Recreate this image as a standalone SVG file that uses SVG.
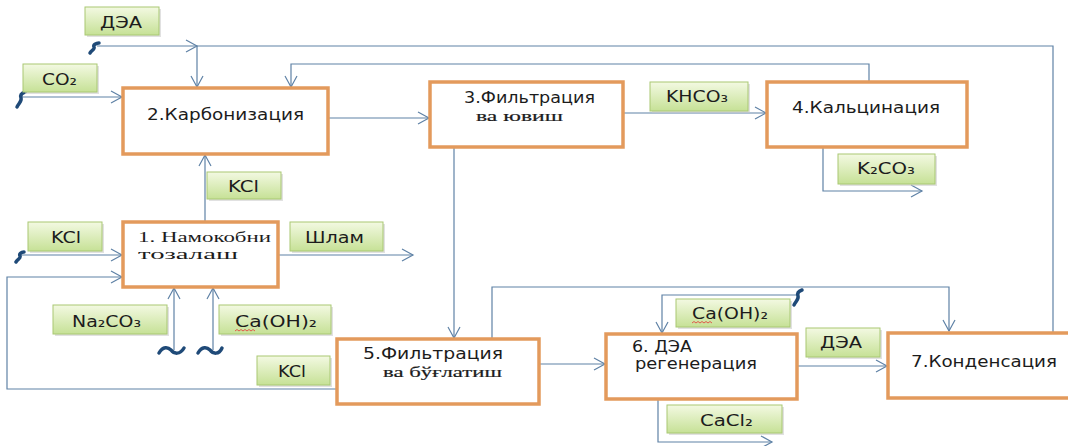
<svg xmlns="http://www.w3.org/2000/svg" width="1068" height="446" viewBox="0 0 1068 446">
<defs>
<linearGradient id="lg" x1="0" y1="0" x2="0" y2="1">
<stop offset="0" stop-color="#f3f9e2"/>
<stop offset="1" stop-color="#c6e196"/>
</linearGradient>
<marker id="ar" markerUnits="userSpaceOnUse" markerWidth="14" markerHeight="14" refX="12" refY="7" orient="auto">
<path d="M1,1 L12,7 L1,13" fill="none" stroke="#5f82a6" stroke-width="1.2"/>
</marker>
<style>
.box{fill:#ffffff;stroke:#e39a5c;stroke-width:3.5}
.lbl{fill:url(#lg);stroke:#a9c873;stroke-width:1}
.sh{fill:#c8c8c8;opacity:0.55}
.t{font-family:"DejaVu Sans","Noto Sans",sans-serif;font-size:15px;fill:#1c1c1c}
.s{font-family:"Liberation Serif","DejaVu Serif",serif;font-size:15px;fill:#1c1c1c}
.sb{stroke:#1c1c1c;stroke-width:0.2}
.c{fill:none;stroke:#5f82a6;stroke-width:1.2}
.sq{fill:none;stroke:#1f4a78;stroke-width:3.5;stroke-linecap:round}
.sp{fill:none;stroke:#e05a4a;stroke-width:1}
</style>
</defs>
<rect width="1068" height="446" fill="#ffffff"/>

<g id="connectors">
<path class="c" d="M97,46 H197" marker-end="url(#ar)"/>
<path class="c" d="M1053,332 V46 H197 V87" marker-end="url(#ar)"/>
<path class="c" d="M20,97 H122" marker-end="url(#ar)"/>
<path class="c" d="M869,82 V64 H291 V87" marker-end="url(#ar)"/>
<path class="c" d="M328,118 H429" marker-end="url(#ar)"/>
<path class="c" d="M623,113 H766" marker-end="url(#ar)"/>
<path class="c" d="M823,147 V191 H922" marker-end="url(#ar)"/>
<path class="c" d="M454,147 V338" marker-end="url(#ar)"/>
<path class="c" d="M205,222 V155" marker-end="url(#ar)"/>
<path class="c" d="M20,255 H122" marker-end="url(#ar)"/>
<path class="c" d="M278,255 H413" marker-end="url(#ar)"/>
<path class="c" d="M337,389 H7 V277 H122" marker-end="url(#ar)"/>
<path class="c" d="M174,350 V288" marker-end="url(#ar)"/>
<path class="c" d="M213,350 V288" marker-end="url(#ar)"/>
<path class="c" d="M539,364 H605" marker-end="url(#ar)"/>
<path class="c" d="M492,339 V287 H949 V331" marker-end="url(#ar)"/>
<path class="c" d="M797,295 H662 V333" marker-end="url(#ar)"/>
<path class="c" d="M658,399 V442 H772" marker-end="url(#ar)"/>
<path class="c" d="M797,366 H887" marker-end="url(#ar)"/>
</g>

<g id="breaks">
<path class="sq" d="M90,53 C92,50 95,49 94,47 C93,45 96,43 99,43"/>
<path class="sq" d="M17,107 C19,103 22,101 21,98 C20,95 22,93 25,92"/>
<path class="sq" d="M16,262 C18,259 21,258 20,256 C19,254 21,252 24,252"/>
<path class="sq" d="M794,305 C796,301 799,299 798,296 C797,293 799,291 802,290"/>
<path class="sq" d="M159,353 C163,346 168,347 171,350 C174,354 180,355 184,348"/>
<path class="sq" d="M198,353 C202,346 207,347 210,350 C213,354 219,355 222,348"/>
</g>

<g id="n2">
<rect class="box" x="123" y="88" width="205" height="66"/>
<text class="t" x="147" y="120" textLength="157" lengthAdjust="spacingAndGlyphs">2.Карбонизация</text>
</g>
<g id="n3">
<rect class="box" x="430" y="82" width="193" height="65"/>
<text class="t" x="464" y="103" textLength="131" lengthAdjust="spacingAndGlyphs">3.Фильтрация</text>
<text class="s sb" x="476" y="121" textLength="87" lengthAdjust="spacingAndGlyphs">ва ювиш</text>
</g>
<g id="n4">
<rect class="box" x="767" y="82" width="200" height="65"/>
<text class="t" x="792" y="113" textLength="148" lengthAdjust="spacingAndGlyphs">4.Кальцинация</text>
</g>
<g id="n1">
<rect class="box" x="123" y="222" width="155" height="65"/>
<text class="s" x="138" y="242" font-size="14" textLength="133" lengthAdjust="spacingAndGlyphs">1. Намокобни</text>
<text class="s" x="138" y="259" font-size="14" textLength="100" lengthAdjust="spacingAndGlyphs">тозалаш</text>
</g>
<g id="n5">
<rect class="box" x="337" y="339" width="202" height="65"/>
<text class="t" x="363" y="359" textLength="140" lengthAdjust="spacingAndGlyphs">5.Фильтрация</text>
<text class="s sb" x="383" y="377" textLength="119" lengthAdjust="spacingAndGlyphs">ва бўғлатиш</text>
</g>
<g id="n6">
<rect class="box" x="606" y="334" width="191" height="65"/>
<text class="t" x="632" y="352" textLength="60" lengthAdjust="spacingAndGlyphs">6. ДЭА</text>
<text class="t" x="635" y="369" textLength="122" lengthAdjust="spacingAndGlyphs">регенерация</text>
</g>
<g id="n7">
<rect class="box" x="888" y="333" width="190" height="65"/>
<text class="t" x="911" y="367" textLength="146" lengthAdjust="spacingAndGlyphs">7.Конденсация</text>
</g>

<g id="l_dea_top">
<rect class="sh" x="87" y="9" width="74" height="28"/>
<rect class="lbl" x="85" y="7" width="74" height="28"/>
<text class="t" x="100" y="28" textLength="42" lengthAdjust="spacingAndGlyphs">ДЭА</text>
</g>
<g id="l_co2">
<rect class="sh" x="25" y="66" width="74" height="28"/>
<rect class="lbl" x="23" y="64" width="74" height="28"/>
<text class="t" x="42" y="85" textLength="35" lengthAdjust="spacingAndGlyphs">CO₂</text>
</g>
<g id="l_kcl_top">
<rect class="sh" x="209" y="174" width="74" height="27"/>
<rect class="lbl" x="207" y="172" width="74" height="27"/>
<text class="t" x="228" y="192" textLength="31" lengthAdjust="spacingAndGlyphs">KCl</text>
</g>
<g id="l_kcl_left">
<rect class="sh" x="30" y="224" width="74" height="29"/>
<rect class="lbl" x="28" y="222" width="74" height="29"/>
<text class="t" x="51" y="243" textLength="30" lengthAdjust="spacingAndGlyphs">KCl</text>
</g>
<g id="l_shlam">
<rect class="sh" x="292" y="224" width="93" height="29"/>
<rect class="lbl" x="290" y="222" width="93" height="29"/>
<text class="t" x="305" y="243" textLength="59" lengthAdjust="spacingAndGlyphs">Шлам</text>
</g>
<g id="l_na2co3">
<rect class="sh" x="55" y="307" width="114" height="29"/>
<rect class="lbl" x="53" y="305" width="114" height="29"/>
<text class="t" x="72" y="327" textLength="69" lengthAdjust="spacingAndGlyphs">Na₂CO₃</text>
</g>
<g id="l_caoh2_left">
<rect class="sh" x="221" y="307" width="112" height="29"/>
<rect class="lbl" x="219" y="305" width="112" height="29"/>
<text class="t" x="235" y="327" textLength="82" lengthAdjust="spacingAndGlyphs">Ca(OH)₂</text>
<path class="sp" d="M235,331 l2,-1.5 l2,1.5 l2,-1.5 l2,1.5 l2,-1.5 l2,1.5 l2,-1.5 l2,1.5 l2,-1.5 l2,1.5"/>
</g>
<g id="l_kcl_bottom">
<rect class="sh" x="259" y="358" width="73" height="29"/>
<rect class="lbl" x="257" y="356" width="73" height="29"/>
<text class="t" x="278" y="377" textLength="28" lengthAdjust="spacingAndGlyphs">KCl</text>
</g>
<g id="l_khco3">
<rect class="sh" x="652" y="84" width="98" height="29"/>
<rect class="lbl" x="650" y="82" width="98" height="29"/>
<text class="t" x="666" y="102" textLength="62" lengthAdjust="spacingAndGlyphs">KHCO₃</text>
</g>
<g id="l_k2co3">
<rect class="sh" x="840" y="156" width="97" height="30"/>
<rect class="lbl" x="838" y="154" width="97" height="30"/>
<text class="t" x="857" y="174" textLength="58" lengthAdjust="spacingAndGlyphs">K₂CO₃</text>
</g>
<g id="l_caoh2_right">
<rect class="sh" x="678" y="301" width="114" height="28"/>
<rect class="lbl" x="676" y="299" width="114" height="28"/>
<text class="t" x="692" y="319" textLength="76" lengthAdjust="spacingAndGlyphs">Ca(OH)₂</text>
<path class="sp" d="M692,323 l2,-1.5 l2,1.5 l2,-1.5 l2,1.5 l2,-1.5 l2,1.5 l2,-1.5 l2,1.5 l2,-1.5 l2,1.5"/>
</g>
<g id="l_cacl2">
<rect class="sh" x="669" y="407" width="115" height="28"/>
<rect class="lbl" x="667" y="405" width="115" height="28"/>
<text class="t" x="700" y="426" textLength="53" lengthAdjust="spacingAndGlyphs">CaCl₂</text>
</g>
<g id="l_dea_right">
<rect class="sh" x="808" y="330" width="74" height="29"/>
<rect class="lbl" x="806" y="328" width="74" height="29"/>
<text class="t" x="820" y="348" textLength="42" lengthAdjust="spacingAndGlyphs">ДЭА</text>
</g>
</svg>
